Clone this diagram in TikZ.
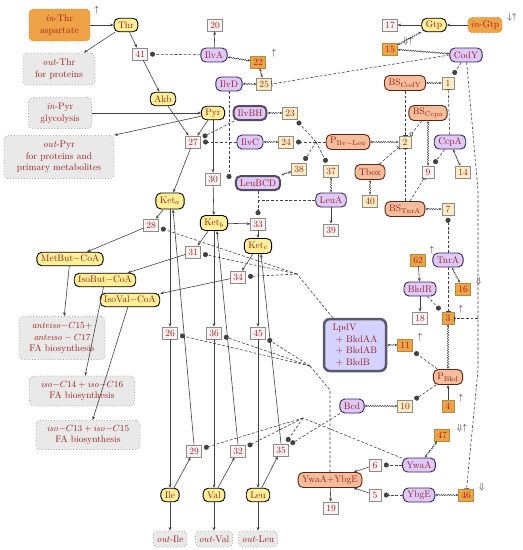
\documentclass[tikz,border=0pt]{standalone}
\usetikzlibrary{arrows.meta,decorations.pathmorphing}

\definecolor{txtred}{RGB}{155,30,30}
\definecolor{metfill}{RGB}{255,239,150}
\definecolor{protfill}{RGB}{222,202,250}
\definecolor{protline}{RGB}{55,40,75}
\definecolor{cplxline}{RGB}{85,75,95}
\definecolor{genefill}{RGB}{245,190,155}
\definecolor{geneline}{RGB}{95,35,25}
\definecolor{rxnfill}{RGB}{251,243,243}
\definecolor{rxnbfill}{RGB}{250,237,196}
\definecolor{rxnofill}{RGB}{240,163,70}
\definecolor{rxnoline}{RGB}{175,140,70}
\definecolor{poolfill}{RGB}{233,233,233}
\definecolor{edgecol}{RGB}{65,65,65}
\definecolor{lpdvfill}{RGB}{212,210,255}
\definecolor{lpdvline}{RGB}{90,88,105}

\tikzset{
	met/.style={draw=black, line width=0.9pt, fill=metfill, rounded corners=5pt, inner xsep=4pt, inner ysep=1.5pt, minimum height=13.5pt, text=txtred},
	prot/.style={met, draw=protline, fill=protfill, minimum height=14pt},
	cplx/.style={prot, draw=cplxline, line width=2pt},
	gene/.style={met, draw=geneline, fill=genefill, minimum height=15pt},
	rxn/.style={draw=gray!90, fill=rxnfill, line width=0.6pt, minimum width=12pt, minimum height=12pt, inner xsep=2.5pt, inner ysep=1pt, text=txtred},
	rxnb/.style={rxn, fill=rxnbfill},
	rxno/.style={rxn, fill=rxnofill, draw=rxnoline},
	pool/.style={draw=gray!70, dotted, line width=0.8pt, fill=poolfill, rounded corners=4pt, align=center, text=txtred},
	poolin/.style={pool, fill=rxnofill, draw=rxnoline},
	sym/.style={inner sep=0pt, text=black!85},
	conv/.style={draw=edgecol, line width=0.6pt, -{Stealth[length=3.6pt,width=2.9pt]}},
	link/.style={draw=edgecol, line width=0.6pt, dash pattern=on 2.8pt off 1.8pt},
	catal/.style={link, -{Circle[length=5pt]}, shorten >=2.5pt},
	inhib/.style={link, -{Bar[width=5pt]}},
	modul/.style={link, -{Circle[open,length=4pt]}},
	bind/.style={draw=edgecol, line width=0.5pt, {Stealth[length=2.8pt,width=2.4pt]}-{Stealth[length=2.8pt,width=2.4pt]}, decorate, decoration={snake, amplitude=0.6pt, segment length=2.4pt, pre length=2.8pt, post length=2.8pt}}
}

\begin{document}
\begin{tikzpicture}[x=1pt, y=-1pt, font=\fontsize{9.5}{11.5}\selectfont]
	\useasboundingbox (0,0) rectangle (523,550);

	\node[poolin, minimum width=61pt, minimum height=32pt] (inThr) at (59.5,25) {\textit{in}-Thr\\aspartate};
	\node[met] (Thr) at (126,25) {Thr};
	\node[pool, minimum width=72pt, minimum height=32pt] (outThr) at (59,69) {\textit{out}-Thr\\for proteins};
	\node[rxn] (r41) at (140,54) {41};
	\node[met] (Akb) at (163,99) {Akb};
	\node[pool, minimum width=63pt, minimum height=31pt] (inPyr) at (60,113) {\textit{in}-Pyr\\glycolysis};
	\node[pool, minimum width=110pt, minimum height=43pt] (outPyr) at (59,157) {\textit{out}-Pyr\\for proteins and\\primary metabolites};
	\node[met] (Pyr) at (213,113) {Pyr};
	\node[rxn] (r20) at (215,25) {20};
	\node[prot] (IlvA) at (214,55) {IlvA};
	\node[rxno] (r22) at (258,62) {22};
	\node[prot] (IlvD) at (229,84) {IlvD};
	\node[rxnb] (r25) at (264,84) {25};
	\node[cplx] (IlvBH) at (250,113) {IlvBH};
	\node[rxnb] (r23) at (290,113) {23};
	\node[rxn] (r27) at (193,142) {27};
	\node[prot] (IlvC) at (250,142) {IlvC};
	\node[rxnb] (r24) at (286,142) {24};
	\node[gene] (PIlv) at (348,142) {P$_{\mathrm{Ilv-Leu}}$};
	\node[rxnb] (r2) at (405,142) {2};
	\node[rxn] (r17) at (390,25) {17};
	\node[met] (Gtp) at (434,25) {Gtp};
	\node[poolin, minimum height=14pt, inner xsep=3pt] (inGtp) at (485,25) {\textit{in}-Gtp};
	\node[rxno] (r15) at (390,49) {15};
	\node[prot] (CodY) at (466,55) {CodY};
	\node[gene] (BSCodY) at (405,83) {BS$_{\mathrm{CodY}}$};
	\node[rxnb] (r1) at (448,83) {1};
	\node[gene] (BSCcpa) at (428,113) {BS$_{\mathrm{Ccpa}}$};
	\node[prot] (CcpA) at (450,142) {CcpA};
	\node[rxnb] (r38) at (299,169) {38};
	\node[rxnb] (r37) at (331,171) {37};
	\node[gene] (Tbox) at (370,172) {Tbox};
	\node[rxn] (r9) at (428,172) {9};
	\node[rxnb] (r14) at (463,172) {14};
	\node[rxn] (r30) at (213,179) {30};
	\node[cplx] (LeuBCD) at (258,183) {LeuBCD};
	\node[prot] (LeuA) at (331,200) {LeuA};
	\node[rxnb] (r40) at (370,201) {40};
	\node[met, minimum height=16pt] (Keta) at (170,201) {Ket$_a$};
	\node[gene] (BSTnrA) at (405,209) {BS$_{\mathrm{TnrA}}$};
	\node[rxnb] (r7) at (448,209) {7};
	\node[met, minimum height=15pt] (Ketb) at (214,223) {Ket$_b$};
	\node[rxn] (r33) at (258,224) {33};
	\node[rxn] (r39) at (331,230) {39};
	\node[rxn] (r28) at (151,225) {28};
	\node[met, minimum height=15pt] (Ketc) at (258,246) {Ket$_c$};
	\node[rxn] (r31) at (193,252) {31};
	\node[met] (MetBut) at (70,259) {MetBut$-$CoA};
	\node[prot] (TnrA) at (448,260) {TnrA};
	\node[rxno] (r62) at (418,260) {62};
	\node[rxn] (r34) at (238,277) {34};
	\node[met] (IsoBut) at (105,280) {IsoBut$-$CoA};
	\node[prot] (BkdR) at (420,289) {BkdR};
	\node[rxno] (r16) at (463,289) {16};
	\node[met] (IsoVal) at (130,300) {IsoVal$-$CoA};
	\node[rxn] (r18) at (420,318) {18};
	\node[rxno] (r3) at (448,318) {3};
	\node[pool, minimum width=86pt, minimum height=43pt] (anteiso) at (62,338) {$\mathit{anteiso}{-}C15{+}$\\$\mathit{anteiso}-C17$\\FA biosynthesis};
	\node[rxn] (r26) at (170,333) {26};
	\node[rxn] (r36) at (214,333) {36};
	\node[rxn] (r45) at (258,333) {45};
	\node[draw=lpdvline, line width=2.5pt, fill=lpdvfill, rounded corners=6pt, align=left, minimum width=62pt, minimum height=52pt, text=txtred] (LpdV) at (355,345) {LpdV\\\ + BkdAA\\\ + BkdAB\\\ + BkdB};
	\node[rxno] (r11) at (405,345) {11};
	\node[gene] (PBkd) at (448,377) {P$_{\mathrm{Bkd}}$};
	\node[pool, minimum width=105pt, minimum height=30pt] (isoC14) at (82,391) {$\mathit{iso}{-}C14+\mathit{iso}{-}C16$\\FA biosynthesis};
	\node[prot] (Bcd) at (352,406) {Bcd};
	\node[rxnb] (r10) at (405,406) {10};
	\node[rxno] (r4) at (448,406) {4};
	\node[pool, minimum width=104pt, minimum height=29pt] (isoC13) at (88,435) {$\mathit{iso}{-}C13+\mathit{iso}{-}C15$\\FA biosynthesis};
	\node[rxno] (r47) at (442,435) {47};
	\node[rxn] (r29) at (194,451) {29};
	\node[rxn] (r32) at (238,451) {32};
	\node[rxn] (r35) at (281,450) {35};
	\node[prot] (YwaA) at (419,465) {YwaA};
	\node[rxn] (r6) at (375,465) {6};
	\node[gene] (YwaAYbgE) at (330,480) {YwaA+YbgE};
	\node[met] (Ile) at (170,495) {Ile};
	\node[met] (Val) at (214,495) {Val};
	\node[met] (Leu) at (258,495) {Leu};
	\node[prot] (YbgE) at (419,495) {YbgE};
	\node[rxn] (r5) at (375,495) {5};
	\node[rxno] (r46) at (466,495) {46};
	\node[rxn] (r19) at (331,508) {19};
	\node[pool, minimum height=16pt] (outIle) at (170,539) {\textit{out}-Ile};
	\node[pool, minimum height=16pt] (outVal) at (214,539) {\textit{out}-Val};
	\node[pool, minimum height=16pt] (outLeu) at (258,539) {\textit{out}-Leu};

	\node[sym] (lThr) at (97,10) {$\uparrow$};
	\node[sym] (lGtp) at (512,17) {$\downarrow\uparrow$};
	\node[sym] (l15) at (408,41) {$\Downarrow\uparrow$};
	\node[sym] (l22) at (274,53) {$\uparrow$};
	\node[sym] (l62) at (432,250) {$\uparrow$};
	\node[sym] (l16) at (479,281) {$\Downarrow$};
	\node[sym] (l3) at (461,309) {$\uparrow$};
	\node[sym] (l11) at (420,337) {$\uparrow$};
	\node[sym] (l4) at (461,398) {$\uparrow$};
	\node[sym] (l47) at (462,428) {$\Downarrow\uparrow$};
	\node[sym] (l46) at (482,487) {$\Downarrow$};

	\draw[conv] (inThr) -- (Thr);
	\draw[conv] (Thr) -- (outThr);
	\draw[conv] (Thr) -- (r41);
	\draw[conv] (r41) -- (Akb);
	\draw[conv] (inPyr) -- (Pyr);
	\draw[conv] (Pyr.195) -- (outPyr.north east);
	\draw[conv] (Pyr) -- (r27);
	\draw[conv] (Akb) -- (r27);
	\draw[conv] (r27) -- (Keta);
	\draw[conv] (Pyr) -- (r30);
	\draw[conv] (r30) -- (Ketb);
	\draw[conv] (Ketb) -- (r33);
	\draw[conv] (r33) -- (Ketc);
	\draw[conv] (Keta) -- (r28);
	\draw[conv] (r28) -- (MetBut);
	\draw[conv] (MetBut) -- (anteiso);
	\draw[conv] (Ketb) -- (r31);
	\draw[conv] (r31) -- (IsoBut);
	\draw[conv] (IsoBut) -- (isoC14);
	\draw[conv] (Ketc) -- (r34);
	\draw[conv] (r34) -- (IsoVal);
	\draw[conv] (IsoVal) -- (isoC13);
	\foreach \ket/\amino/\fwd/\bwd/\sink in {Keta/Ile/r26/r29/outIle, Ketb/Val/r36/r32/outVal, Ketc/Leu/r45/r35/outLeu} {
		\draw[conv] (\ket) -- (\fwd);
		\draw[conv] (\fwd) -- (\amino);
		\draw[conv] (\amino) -- (\bwd);
		\draw[conv] (\bwd.north) -- ([xshift=3pt]\ket.south);
		\draw[conv] (\amino) -- (\sink);
	}

	\draw[catal] (IlvA) -- (r41);
	\draw[conv] (IlvA) -- (r20);
	\draw[bind] (IlvA) -- (r22);
	\draw[bind] (r22) -- (r25);
	\draw[bind] (IlvD) -- (r25);
	\draw[inhib] (CodY.west) -- (r25.east);
	\draw[catal, shorten >=0pt] (IlvD) -- (IlvD |- r30.east);
	\draw[catal] (IlvBH) -- (r27);
	\draw[catal] (IlvC) -- (r27);
	\draw[bind] (IlvBH) -- (r23);
	\draw[bind] (IlvC) -- (r24);
	\coordinate (jP) at (316,142);
	\draw[link] (PIlv) -- (jP);
	\foreach \rx in {r23, r24, r38, r37}
		\draw[catal] (jP) -- (\rx);
	\draw[bind] (r38) -- (LeuBCD);
	\draw[bind] (r37) -- (LeuA);
	\draw[conv] (LeuA) -- (r39);
	\draw[bind] (Tbox) -- (r40);
	\draw[catal] (LeuBCD) -- (r33);
	\draw[link] (LeuA.west) -- (LeuA.west -| r33);

	\draw[conv] (inGtp) -- (Gtp);
	\draw[conv] (Gtp) -- (r17);
	\draw[bind] (Gtp) -- (r15);
	\draw[bind] (r15) -- (CodY);
	\draw[catal] (CodY) -- (r1);
	\draw[bind] (BSCodY) -- (r1);
	\draw[inhib] (CcpA) -- (r1);
	\draw[inhib] (BSCodY) -- (r2);
	\draw[modul] (BSCcpa) -- (r2);
	\draw[inhib] (Tbox) -- (r2);
	\draw[inhib] (BSTnrA) -- (r2);
	\draw[bind] (PIlv) -- (r2);
	\draw[bind] (BSCcpa) -- (r9);
	\draw[catal] (CcpA) -- (r9);
	\draw[bind] (r14) -- (CcpA);
	\draw[inhib] (BSTnrA) -- (r9);
	\draw[bind] (BSTnrA) -- (r7);
	\draw[catal] (TnrA) -- (r7);
	\draw[bind] (TnrA) -- (r16);
	\draw[conv] (r62) -- (BkdR);
	\draw[conv] (BkdR) -- (r18);
	\draw[catal] (BkdR) -- (r3);
	\draw[inhib] (TnrA) -- (r3);
	\coordinate (cA) at (478,190);
	\coordinate (cB) at (478,370);
	\draw[inhib] (CodY) -- (cA) -- (cB) -- (r46);
	\draw[inhib] (cA |- r3) -- (r3);
	\draw[bind] (r3) -- (PBkd);
	\draw[conv] (r4) -- (PBkd);
	\draw[catal] (PBkd) -- (r11);
	\draw[catal] (PBkd) -- (r10);
	\draw[bind] (LpdV) -- (r11);
	\draw[bind] (Bcd) -- (r10);

	\coordinate (jK) at (297,274);
	\draw[link] (LpdV) -- (jK);
	\foreach \rx in {r28, r31, r34}
		\draw[catal] (jK) -- (\rx);
	\coordinate (jA) at (310,366);
	\coordinate (jB) at (330,390);
	\draw[link] (YwaAYbgE) -- (jB) -- (jA);
	\foreach \rx in {r26, r36, r45}
		\draw[catal] (jA) -- (\rx);
	\coordinate (jC) at (303,418);
	\draw[link] (YwaA) -- (jC);
	\foreach \rx in {r29, r32, r35}
		\draw[catal] (jC) -- (\rx);
	\draw[catal] (Bcd) -- (r35);
	\draw[bind] (r47) -- (YwaA);
	\draw[catal] (YwaA) -- (r6);
	\draw[catal] (YbgE) -- (r5);
	\draw[bind] (YbgE) -- (r46);
	\draw[conv] (r6) -- (YwaAYbgE);
	\draw[conv] (r5) -- (YwaAYbgE);
	\draw[conv] (YwaAYbgE) -- (r19);
\end{tikzpicture}
\end{document}
